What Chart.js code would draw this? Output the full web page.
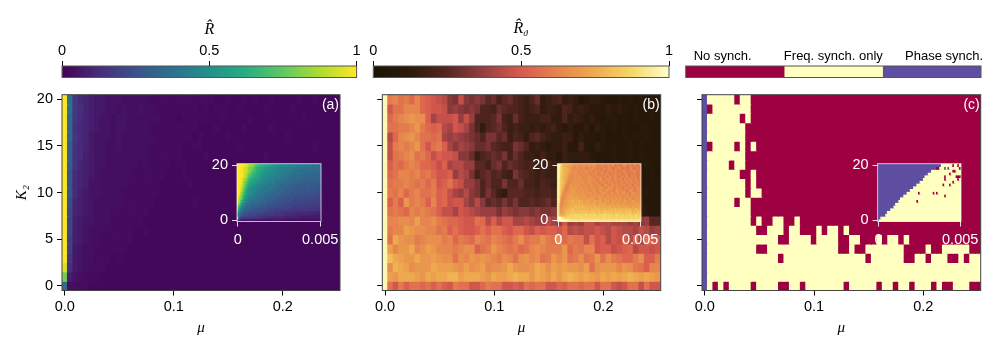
<!DOCTYPE html>
<html>
<head>
<meta charset="utf-8">
<title>Synchronisation maps</title>
<style>
	html, body { margin: 0; padding: 0; background: #fff; }
	#stage { position: relative; width: 996px; height: 349px; overflow: hidden; }
	#stage canvas { position: absolute; }
</style>
<script src="https://cdn.jsdelivr.net/npm/chart.js@4/dist/chart.umd.min.js"></script>
</head>
<body>
<div id="stage"></div>
<script>
/* global Chart */

// Rows run from K2 = 20 (top) to K2 = 0. One character per cell, base 36.
var k2Values = [ 20, 19, 18, 17, 16, 15, 14, 13, 12, 11, 10, 9, 8, 7, 6, 5, 4, 3, 2, 1, 0 ];

// Panel (a), digit d means (d / 35)^2 so the dark end keeps some resolution.
var rowsA = [
	'zlecba9988 8777776666 6666666655 6556565565 5556556555 5',
	'zledba9988 7877877666 6666656566 5565555655 5565555555 5',
	'zkecba9887 8877777766 6566666556 5555655555 5555655555 5',
	'zkdcba9887 8877776666 6666655565 5556555565 5555555555 5',
	'zkecb98887 8777777666 6666565555 6555555555 5655555555 5',
	'zjdcb98877 8777776666 6655665555 5565555555 5555556555 5',
	'zjdca98877 7777776666 6655556555 5555555655 5555555555 5',
	'zjdba98877 7777676666 5665555565 5555555555 5555555555 5',
	'zicba98777 7776666665 5565555555 5555655555 5555555555 5',
	'zicba88777 7766666655 5556555555 5555555555 5555555555 5',
	'zica988777 7666666655 5555555555 5555555555 5555555555 5',
	'zhba987777 7666666555 5555655555 5555555555 5555555555 5',
	'zgba987776 6666665555 5555555555 5555555555 5555555555 5',
	'zga9887776 6666655555 5555555555 5555555555 5555555555 5',
	'zga9877766 6665565555 5555555555 5555555555 5555555555 5',
	'zfa9877666 6665555555 5555555555 5555555555 5555555555 5',
	'zf98776666 6655555555 5555555555 5555555555 5555555555 5',
	'ze98776665 6555555555 5555555555 5555555555 5555555555 5',
	'yd98766655 5555555555 5555555555 5555555555 5555555555 5',
	'va87666555 5555555555 5555555555 5555555555 5555555555 5',
	'l776655555 5555555555 5555555555 5555555555 5555555555 5'
];

var insetRowsA = [
	'zzzzzyyxww vuttsssrrq qqpppooooo onnnnnnmmm mmmmmmlmml l',
	'zzzzyyxwvv utssrrqqqp ppooooonnn nnnmmmmmmm mmllmllllm l',
	'zzzzyyxwvu ttsrrqqppp poooonnnnn nnmmmmmlml lllllllklk l',
	'zzzzyxwvut ssrrqqpppo oooonnnnnm mmmmlllmll lllklkkklk k',
	'zzzzyxwuts srrqqpppoo oonnnnnmmm mllllllklk kkkkkkkkkk k',
	'zzzyxwutsr rqqqpoooon nnnmmmmmml lllkkklkkk kkkjkkjjkk j',
	'zzzywvtsrq qqpppoonnn nnnmmmllll llkkkkkkkj jjkjjjjjjj j',
	'zzzxwusrqq ppoonnnnnm mmmmlllkkk kkkkkjjjjj jjjjjijjij i',
	'zzyxvtrqpp oonnnnmmmm mmllllkkkk kkjjjjjjjj iijjiiiiii i',
	'zzywusqppo oonnmmmmmm llllkkkkkj jjjjjjiiii iiiiiiiiii h',
	'zzxvtrqpoo nnmmmmllll lkkkkkkjjj jjiiijiiii iiihihihhh h',
	'zywusqpoon nmmmllllkk kkkjjjjjji iiiiihhihh hhhhhhhhhh g',
	'zxwtrponnm mmllllkkkk jjjjjiiiii ihhihhhhhh hhhgghgggg g',
	'zxurqonmml llllkkkkjj jjiiiiihhh hhhhgggggg ggggggggfg f',
	'yvspnmlllk kkkkjjjjji iiihhhhhhh gggggggggf gfffffffff f',
	'xsqnmlkkkj jjjjiiiiih hhhhhhgggg ggggffffff ffffefeeee e',
	'vqnlkkjjji iiihhhhhhg gggfffffff fffeeeeeee eeeeedeede d',
	'tnlkjiiihh hhhggggfff fffeeeeddd ddddddcccc ccccbccbcb b',
	'rljihhhggg ggfffeeeee eedddddddc cccccbbbbb bbbbabaaaa a',
	'xhffeeeedd dddcccccbb bbbbbabbaa aaaaaaaa99 9999999999 9',
	'nba9999999 9888888888 8888888888 7777777777 7777777777 7'
];

// Panel (b), digit d means d / 35.
var rowsB = [
	'ylmkljmjih gfcbgcbcb9 a79a8768a5 6785653455 4334343434 3',
	'yhkkmmmjih hgcdcbcb88 7a98876785 6658756544 4545434344 3',
	'yjlmnonnie ggghdgd888 9b76a76667 7558565454 3443434334 3',
	'ykkllmolji jfehgeb858 9a86766565 6754544535 4343423443 3',
	'yfjmnomkkj kededcba8b b9a6875897 6556645443 4333434343 2',
	'yglmlmokhk liecedcaab 9877ba8565 4556447435 4343342433 3',
	'ygklmnkljg ihhgcca689 a9b7a86657 5546555543 3343343433 3',
	'yikjlmljji gieffdd997 ab8a987866 7656545554 4343334343 2',
	'yjkmmlmklj hhidfeb79a 8976b98767 6656456454 4343434324 2',
	'ykllmlkljl hikhgddb8a 88b88a7768 7655768445 4544344433 3',
	'ylkmjlmkkl ijgedfcb8b 9659998878 8786557544 3454343443 3',
	'yiliolmlim ijghhecfc9 a9b9b88989 a899887655 5454344533 2',
	'yklkjmlmlk iggehgfedd dbdcbccbcb bcba9ac987 7766654543 3',
	'ymmnnmpmmn lkjjihhkjf ifhheefedd fedhdedgge ffeeedecd9 9',
	'ylmmponnmm klikihhiki kkihjjhgih iihjfgfggh gfhgffegfd e',
	'ykqonnlmnn nlmjlkjmlk mlkjlnklln lknjlkkgkh ifhgifjeki h',
	'ypmooqmnpo mmmlmnnikl omlkljkmnm lllojlkmmh iighijfhhg h',
	'ysqpooqoop onnknmonon mlnmknomnk lomoklnklo knlkjjlnii l',
	'ynrqpnoooq ppponpnopm nnoqonnoqp npopoonpkn ooomonlkim m',
	'ypoqqqpoqp qqrrpqqqpo qppqrqqoqp oqoqrqpqpo qpqpqrqpqp o',
	'ykhlikkjki kihlkkhhjl kkhhihkjkk hhjikkjkkh kkhghkkgkh h'
];

var insetRowsB = [
	'yyvrrqqppo nnonmonnmo mnonmlmnml mnlmnklmkl mnlkmlkmlk m',
	'yxusrrqpon nmonmnnmln mnnmlmmknm lnmlkmlnml kmlkmnlkml l',
	'yxusrrqpon nonmnnmonm nmlnmmlnmk mlnmlnmkml nmlkmlmnlk m',
	'yxtsrqqonn nonnmnmnmn lnmnmlmnlm nmkmlnmlnk lmnlkmlmkl l',
	'yxtsrqpnnm onnonmnmno mnlmnmnlmn lmnmlnlmkn mlnmkmnlmk m',
	'ywtsrqonmn nononnmnmn omnmlmonlm nmnlmnmlnm knmlnmlmnk m',
	'ywtsrpnmnn ononnonmno nmnmnlmnnm lnmnlmnlmn mlnmlnmlmn l',
	'ywtrqnmnoo nononmonnm onmnmnnlmo nmlnnmnmln mnlmnmkmnl m',
	'ywtrpmmnoo oonnonnonm nonmnmonnl mnonmlnmnm lnmnlmnlmn m',
	'ywsqnmnoop oonononnon mnonmnonmn onmnlnonmn mnlmnomlmn m',
	'ywsomnoopo pooonoonon onnonmnnon nmnonmnomn onmnlnomnm n',
	'yvqmnooppp oopoooponn onoonpnonm nonnmonnon mnonmnnomn n',
	'yvomnopppq pqpppopoop oponnopnoo nonpnoonon nomnonmnon n',
	'yvnnoppqqr qqqrqqppqp popqopponp opnoponpoo npoonopnon o',
	'ytmnoppqqr qrqrqqqpqq pqqpopqpqq opnqpoppoo qoonpooppp o',
	'ysmoppqqrr rsrsrsrrrq rqrrqrqqrp qqrpqqpqqp pqpqpoqppp q',
	'ysnpqqrrst srsrsrsrsr rsrsrsrrrs rrrsrsrsrs rrsrsrqrsq r',
	'ysopqrssst stststtsts sttsstsrtt ststrtssts sststsrsrt s',
	'ytqrrsttuu uvuvuuuvuu vuuvtuuvuv uuvutuvutu ututuutuvt u',
	'zzywvuvvvu vuvuvvuvuv uvuvuvuuvv uvuuvuvuuv uuvuuvuuvu v',
	'zzzzyyxxww wxwwwxwwxw xwwxwwxwxw wxwxwwxwxw xwxwwxwxww x'
];

// Panel (c): 0 no synch, 1 frequency synch only, 2 phase synch.
var rowsC = [
	'2111110110 0000000000 0000000000 0000000000 0000000000 0',
	'2011111110 0000000000 0000000000 0000000000 0000000000 0',
	'2111111010 0000000000 0000000000 0000000000 0000000000 0',
	'2111111100 0000000000 0000000000 0000000000 0000000000 0',
	'2111111100 0000000000 0000000000 0000000000 0000000000 0',
	'2011110101 0000000000 0000000000 0000000000 0000000000 0',
	'2111111100 0000000000 0000000000 0000000000 0000000000 0',
	'2111101100 0000000000 0000000000 0000000000 0000000000 0',
	'2111111001 0000000000 0000000000 0000000000 0000000000 0',
	'2111111101 0000000000 0000000000 0000000000 0000000000 0',
	'2111111101 1000000000 0000000000 0000000000 0000000000 0',
	'2111110110 0000000000 0000000000 0000000000 0000000000 0',
	'2111111110 0000000000 0000000000 0000000000 0000000000 0',
	'2111111110 1001100100 0000000000 0000000000 0000000000 0',
	'2111111111 0011101100 0101101000 0000000000 0000000000 0',
	'2111111111 1111001111 0111100110 0010110100 0000000000 0',
	'2111111111 0011111111 1111100100 1111111000 0100111110 0',
	'2111111111 1111011111 1111111111 0111111001 1011100101 1',
	'2111111111 1111111111 1111111111 1111111111 1111111111 1',
	'2111111111 1111111111 1111111111 1111111111 1111111111 1',
	'2101011110 1111001101 1111110111 1101101101 1101001110 0'
];

var insetRowsC = [
	'2222222222 2222222222 2222222222 2222222221 1111110110 1',
	'2222222222 2222222222 2222222222 2222220011 1212111111 0',
	'2222222222 2222222222 2222222222 2221111111 1111110011 1',
	'2222222222 2222222222 2222222222 2111111111 1111011111 1',
	'2222222222 2222222222 2222222221 1111111111 1011111100 0',
	'2222222222 2222222222 2222222211 1111111111 1011111110 1',
	'2222222222 2222222222 2222221111 1111111111 1111110111 1',
	'2222222222 2222222222 2222111111 1111111111 0111011111 1',
	'2222222222 2222222222 2211111111 1111111111 1111111111 1',
	'2222222222 2222222222 1111111111 1111111111 1111111111 1',
	'2222222222 2222222211 1111101111 1111010111 1111111111 1',
	'2222222222 2222221111 1111111111 1111111111 1011111111 1',
	'2222222222 2222111111 1111111111 1111111111 1111111111 1',
	'2222222222 2221111111 1111011111 1111111111 1111111111 1',
	'2222222222 2111111111 1111111111 1111111111 1111111111 1',
	'2222222222 1111111111 1111111111 1111111111 1111111111 1',
	'2222222211 1111111111 1111111111 1111111111 1111111111 1',
	'2222221111 1111111111 1111111111 1111111111 1111111111 1',
	'2222211111 1111111111 1111111111 1111111111 1111111111 1',
	'2211111111 1111111111 1111111111 1111111111 1111111111 1',
	'2111111111 1111111111 1111111111 1111111111 1111111111 1'
];

var mainXTickIndex = [ 0, 20, 40 ];
var mainXTickLabels = [ '0.0', '0.1', '0.2' ];
var mainYTicks = [ 0, 5, 10, 15, 20 ];
var insetXTickIndex = [ 0, 50 ];
var insetXTickLabels = [ '0', '0.005' ];
var insetYTicks = [ 0, 20 ];
var colorbarTicks = [ 0, 0.5, 1 ];
var colorbarTickLabels = [ '0', '0.5', '1' ];
var classNames = [ 'No synch.', 'Freq. synch. only', 'Phase synch.' ];
var classTickPositions = [ 0.125, 0.5, 0.875 ];

var viridisStops = [ '#440154', '#472d7b', '#3b528b', '#2c728e', '#21918c', '#28ae80', '#5ec962', '#addc30', '#fde725' ];
var lajollaStops = [ '#1a1404', '#2c1a0c', '#552622', '#9a3f41', '#d85a4e', '#e6844d', '#efab4f', '#f6d768', '#ffffcc' ];
var classColors = [ '#9e0142', '#ffffbf', '#5e4fa2' ];

var SANS = '"Liberation Sans", Arial, sans-serif';
var SERIF = '"Liberation Serif", serif';
var TICK_SIZE = 14.5;

Chart.defaults.animation = false;
Chart.defaults.responsive = false;
Chart.defaults.devicePixelRatio = 1;
Chart.defaults.events = [];
Chart.defaults.plugins.legend.display = false;
Chart.defaults.plugins.tooltip.enabled = false;

// Draws the box round a chart area and, if asked, the panel letter inside it.
var framePlugin = {
	id: 'frame',
	afterDatasetsDraw: function ( chart, args, opts ) {
		var a = chart.chartArea;
		var ctx = chart.ctx;
		ctx.save();
		ctx.strokeStyle = opts.color;
		ctx.lineWidth = opts.width;
		ctx.strokeRect( a.left, a.top, a.right - a.left, a.bottom - a.top );
		if ( opts.letter ) {
			ctx.fillStyle = '#fff';
			ctx.font = '14px ' + SANS;
			ctx.textAlign = 'right';
			ctx.textBaseline = 'middle';
			ctx.fillText( opts.letter, a.right - 1, a.top + 10 );
		}
		ctx.restore();
	}
};

// The R-hat-theta label needs a smaller subscript, which an axis title cannot do.
var subscriptTitlePlugin = {
	id: 'subscriptTitle',
	afterDraw: function ( chart, args, opts ) {
		if ( ! opts.text ) {
			return;
		}
		var ctx = chart.ctx;
		var a = chart.chartArea;
		var cx = ( a.left + a.right ) / 2;
		ctx.save();
		ctx.fillStyle = '#000';
		ctx.textBaseline = 'alphabetic';
		ctx.textAlign = 'right';
		ctx.font = 'italic 16px ' + SERIF;
		ctx.fillText( opts.text, cx + 2, 33 );
		ctx.textAlign = 'left';
		ctx.font = 'italic 9px ' + SERIF;
		ctx.fillText( opts.sub, cx + 2, 36 );
		ctx.restore();
	}
};

function hexToRgb( hex ) {
	return [ 1, 3, 5 ].map( function ( i ) {
		return parseInt( hex.substr( i, 2 ), 16 );
	} );
}

function colorFromStops( stops, v ) {
	var t = Math.min( 1, Math.max( 0, v ) ) * ( stops.length - 1 );
	var i = Math.min( stops.length - 2, Math.floor( t ) );
	var a = hexToRgb( stops[ i ] );
	var b = hexToRgb( stops[ i + 1 ] );
	var f = t - i;
	return 'rgb(' + a.map( function ( c, n ) {
		return Math.round( c + ( b[ n ] - c ) * f );
	} ).join( ',' ) + ')';
}

function viridisCell( d ) {
	return colorFromStops( viridisStops, Math.pow( d / 35, 2 ) );
}

function lajollaCell( d ) {
	return colorFromStops( lajollaStops, d / 35 );
}

function classCell( d ) {
	return classColors[ d ];
}

/**
 * One dataset per K2 row; each cell is a floating bar one K2 unit tall.
 *
 * @param {string[]} rows - Encoded rows, K2 = 20 first.
 * @param {Function} cellColor - Maps a cell digit to a CSS colour.
 * @returns {Object[]} Chart.js datasets.
 */
function heatDatasets( rows, cellColor ) {
	return rows.map( function ( row, r ) {
		var cells = row.replace( / /g, '' ).split( '' );
		if ( cells.length !== 51 ) {
			throw new Error( 'row ' + r + ' has ' + cells.length + ' cells' );
		}
		return {
			data: cells.map( function () {
				return [ k2Values[ r ] - 0.5, k2Values[ r ] + 0.5 ];
			} ),
			backgroundColor: cells.map( function ( c ) {
				return cellColor( parseInt( c, 36 ) );
			} ),
			borderWidth: 0,
			inflateAmount: 0.5,
			grouped: false,
			barPercentage: 1,
			categoryPercentage: 1
		};
	} );
}

// Adds a canvas around a target plot rectangle and returns the margins left over.
function addCanvas( area, pad ) {
	var left = Math.floor( area.left - pad.left );
	var top = Math.floor( area.top - pad.top );
	var right = Math.ceil( area.right + pad.right );
	var bottom = Math.ceil( area.bottom + pad.bottom );
	var canvas = document.createElement( 'canvas' );
	canvas.width = right - left;
	canvas.height = bottom - top;
	canvas.style.left = left + 'px';
	canvas.style.top = top + 'px';
	document.getElementById( 'stage' ).appendChild( canvas );
	return {
		canvas: canvas,
		left: area.left - left,
		right: right - area.right,
		top: area.top - top,
		bottom: bottom - area.bottom
	};
}

function fixHeight( size ) {
	return function ( scale ) {
		scale.height = size;
	};
}

function fixWidth( size ) {
	return function ( scale ) {
		scale.width = size;
	};
}

function setTicks( values ) {
	return function ( scale ) {
		scale.ticks = values.map( function ( value ) {
			return { value: value };
		} );
	};
}

function heatChart( o ) {
	var box = addCanvas( o.area, o.pad );
	var labels = o.rows[ 0 ].replace( / /g, '' ).split( '' ).map( function ( c, i ) {
		return String( i );
	} );
	new Chart( box.canvas, {
		type: 'bar',
		data: { labels: labels, datasets: heatDatasets( o.rows, o.cellColor ) },
		plugins: [ framePlugin ],
		options: {
			layout: { padding: { top: box.top, right: box.right, left: 0, bottom: 0 } },
			plugins: { frame: { color: o.frameColor, width: 1, letter: o.letter } },
			scales: {
				x: {
					type: 'category',
					offset: true,
					afterBuildTicks: setTicks( o.xTickIndex ),
					afterFit: fixHeight( box.bottom ),
					border: { display: false },
					grid: { offset: false, drawOnChartArea: false, tickLength: 5, tickColor: o.tickColor },
					ticks: {
						autoSkip: false,
						maxRotation: 0,
						padding: o.xPad,
						color: o.textColor,
						font: { family: SANS, size: TICK_SIZE },
						callback: function ( value, i ) {
							return o.xTickLabels[ i ];
						}
					},
					title: o.muTitle ? {
						display: true,
						text: 'μ',
						color: '#000',
						padding: { top: 0, bottom: 12 },
						font: { family: SERIF, size: 15, style: 'italic' }
					} : { display: false }
				},
				y: {
					type: 'linear',
					min: -0.5,
					max: 20.5,
					afterBuildTicks: setTicks( o.yTicks ),
					afterFit: fixWidth( box.left ),
					border: { display: false },
					grid: { drawOnChartArea: false, tickLength: 5, tickColor: o.tickColor },
					ticks: {
						autoSkip: false,
						padding: 4,
						color: o.textColor,
						font: { family: SANS, size: TICK_SIZE },
						callback: function ( value ) {
							return o.yLabels ? String( value ) : '';
						}
					},
					title: o.k2Title ? {
						display: true,
						text: 'K₂',
						color: '#000',
						padding: { top: 13, bottom: 0 },
						font: { family: SERIF, size: 15, style: 'italic' }
					} : { display: false }
				}
			}
		}
	} );
}

function gradientFill( stops ) {
	return function ( context ) {
		var a = context.chart.chartArea;
		if ( ! a ) {
			return stops[ 0 ];
		}
		var g = context.chart.ctx.createLinearGradient( a.left, 0, a.right, 0 );
		stops.forEach( function ( c, i ) {
			g.addColorStop( i / ( stops.length - 1 ), c );
		} );
		return g;
	};
}

function barSegment( range, fill ) {
	return {
		data: [ range ],
		backgroundColor: fill,
		borderWidth: 0,
		grouped: false,
		barPercentage: 1,
		categoryPercentage: 1
	};
}

function colorbarChart( o ) {
	var box = addCanvas( o.area, { left: 22, right: 22, top: o.area.top, bottom: 2 } );
	new Chart( box.canvas, {
		type: 'bar',
		data: { labels: [ '' ], datasets: o.datasets },
		plugins: [ framePlugin, subscriptTitlePlugin ],
		options: {
			indexAxis: 'y',
			layout: { padding: { top: 0, right: box.right, left: box.left, bottom: box.bottom } },
			plugins: {
				frame: { color: '#555', width: 1 },
				subscriptTitle: { text: o.subText, sub: o.subSub }
			},
			scales: {
				y: { type: 'category', display: false },
				x: {
					type: 'linear',
					position: 'top',
					min: 0,
					max: 1,
					afterBuildTicks: setTicks( o.tickValues ),
					afterFit: fixHeight( box.top ),
					border: { display: false },
					grid: { drawOnChartArea: false, tickLength: 5, tickColor: o.tickColor },
					ticks: {
						autoSkip: false,
						maxRotation: 0,
						padding: o.tickPad,
						color: '#000',
						font: { family: SANS, size: o.fontSize },
						callback: function ( value, i ) {
							return o.tickLabels[ i ];
						}
					},
					title: o.title ? {
						display: true,
						text: o.title,
						color: '#000',
						padding: { top: 20, bottom: 0 },
						font: { family: SERIF, size: 16, style: 'italic' }
					} : { display: false }
				}
			}
		}
	} );
}

var mainTop = 94.3;
var mainBottom = 290.5;
var insetTop = 163.3;
var insetBottom = 221.5;
var mainPad = { right: 6, top: 12, bottom: 58.5 };
var insetPad = { left: 34, right: 24, top: 12, bottom: 28 };

// Main panels first so that the insets land on top of them.
[
	{ left: 62, right: 340, rows: rowsA, cellColor: viridisCell, letter: '(a)', yLabels: true, k2Title: true },
	{ left: 382.3, right: 660.7, rows: rowsB, cellColor: lajollaCell, letter: '(b)' },
	{ left: 702, right: 980.7, rows: rowsC, cellColor: classCell, letter: '(c)' }
].forEach( function ( p ) {
	heatChart( {
		area: { left: p.left, right: p.right, top: mainTop, bottom: mainBottom },
		pad: { left: p.k2Title ? p.left : 24, right: mainPad.right, top: mainPad.top, bottom: mainPad.bottom },
		rows: p.rows,
		cellColor: p.cellColor,
		frameColor: '#444',
		letter: p.letter,
		tickColor: '#000',
		textColor: '#000',
		xPad: 3,
		xTickIndex: mainXTickIndex,
		xTickLabels: mainXTickLabels,
		yTicks: mainYTicks,
		yLabels: p.yLabels,
		k2Title: p.k2Title,
		muTitle: true
	} );
} );

[
	{ left: 237, right: 321, rows: insetRowsA, cellColor: viridisCell },
	{ left: 557.4, right: 641, rows: insetRowsB, cellColor: lajollaCell },
	{ left: 877.6, right: 961, rows: insetRowsC, cellColor: classCell }
].forEach( function ( p ) {
	heatChart( {
		area: { left: p.left, right: p.right, top: insetTop, bottom: insetBottom },
		pad: insetPad,
		rows: p.rows,
		cellColor: p.cellColor,
		frameColor: 'rgba(255,255,255,0.7)',
		tickColor: 'rgba(255,255,255,0.85)',
		textColor: '#fff',
		xPad: 5,
		xTickIndex: insetXTickIndex,
		xTickLabels: insetXTickLabels,
		yTicks: insetYTicks,
		yLabels: true
	} );
} );

var barTop = 66;
var barBottom = 77.5;

colorbarChart( {
	area: { left: 62, right: 356.6, top: barTop, bottom: barBottom },
	datasets: [ barSegment( [ 0, 1 ], gradientFill( viridisStops ) ) ],
	tickValues: colorbarTicks,
	tickLabels: colorbarTickLabels,
	tickColor: '#000',
	tickPad: 1,
	fontSize: TICK_SIZE,
	title: 'R̂'
} );

colorbarChart( {
	area: { left: 373.3, right: 669, top: barTop, bottom: barBottom },
	datasets: [ barSegment( [ 0, 1 ], gradientFill( lajollaStops ) ) ],
	tickValues: colorbarTicks,
	tickLabels: colorbarTickLabels,
	tickColor: '#000',
	tickPad: 1,
	fontSize: TICK_SIZE,
	subText: 'R̂',
	subSub: 'ϑ'
} );

colorbarChart( {
	area: { left: 685.7, right: 981, top: barTop, bottom: barBottom },
	datasets: classColors.map( function ( c, i ) {
		return barSegment( [ i / 3, ( i + 1 ) / 3 ], c );
	} ),
	tickValues: classTickPositions,
	tickLabels: classNames,
	tickColor: 'rgba(0,0,0,0)',
	tickPad: -3,
	fontSize: 13
} );
</script>
</body>
</html>
